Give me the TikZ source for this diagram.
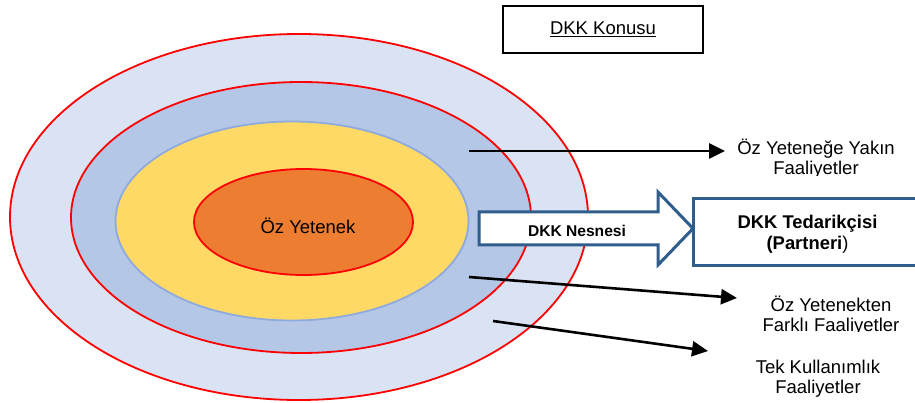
\documentclass[tikz,border=0pt]{standalone}
\usepackage{fontspec}
\setmainfont{Liberation Sans}
\usetikzlibrary{shapes.geometric,arrows.meta}
\definecolor{outerfill}{HTML}{DAE3F3}
\definecolor{midfill}{HTML}{B4C7E7}
\definecolor{yellowfill}{HTML}{FFD966}
\definecolor{orangefill}{HTML}{ED7D31}
\definecolor{yellowline}{HTML}{8FAADC}
\definecolor{navy}{HTML}{2F5D8C}
\begin{document}
\begin{tikzpicture}[x=1pt,y=-1pt,
  ring/.style={ellipse, inner sep=0pt, outer sep=0pt, line width=1.8pt},
  lbl/.style={font=\fontsize{18.5}{19.5}\selectfont, align=center, anchor=base, inner sep=0pt},
  ptr/.style={line width=2.6pt, -{Triangle[length=16pt,width=15pt]}},
  navyline/.style={draw=navy, line width=3pt, line join=miter}]
\useasboundingbox (0,0) rectangle (915,403);
% rings
\node[ring, draw=red, fill=outerfill, minimum width=578pt, minimum height=366pt] (outer) at (299,217) {};
\node[ring, draw=red, fill=midfill, minimum width=460pt, minimum height=271pt] (mid) at (301,217.5) {};
\node[ring, draw=yellowline, fill=yellowfill, minimum width=353pt, minimum height=199pt] (yel) at (292,221) {};
\node[ring, draw=red, fill=orangefill, minimum width=219pt, minimum height=106pt] (core) at (303.5,222) {};
\node[lbl] (coretext) at (308,234) {Öz Yetenek};
% title box
\node[draw=black, line width=1.8pt, minimum width=200pt, minimum height=47pt, inner sep=0pt] (titlebox) at (603,29.5) {};
\node[lbl] (title) at (603,34.5) {\underline{DKK Konusu}};
% pointer arrows
\coordinate (a1s) at (469,151); \coordinate (a1e) at (725,151);
\coordinate (a2s) at (469,277); \coordinate (a2e) at (737,298);
\coordinate (a3s) at (493,321); \coordinate (a3e) at (708,351);
\draw[ptr] (a1s) -- (a1e);
\draw[ptr] (a2s) -- (a2e);
\draw[ptr] (a3s) -- (a3e);
% block arrow
\draw[navyline, fill=white] (479,212) -- (658,212) -- (658,192) -- (693,228.5) -- (658,265) -- (658,245) -- (479,245) -- cycle;
\node[lbl, font=\fontsize{15.6}{18}\selectfont\bfseries] (objtext) at (577,236.5) {DKK Nesnesi};
% supplier box
\node[navyline, minimum width=232pt, minimum height=67pt, inner sep=0pt, fill=white] (supbox) at (809,232.5) {};
\node[lbl, font=\fontsize{18.4}{21}\selectfont\bfseries] (suptext) at (807.5,250) {DKK Tedarikçisi\\(Partneri{\mdseries)}};
% labels
\begin{scope}
\clip (700,0) rectangle (915,176);
\node[lbl] (l1) at (816,174.5) {Öz Yeteneğe Yakın\\Faaliyetler};
\end{scope}
\begin{scope}
\clip (700,270) rectangle (915,331.5);
\node[lbl] (l2) at (831,331) {Öz Yetenekten\\Farklı Faaliyetler};
\end{scope}
\node[lbl] (l3) at (818,393) {Tek Kullanımlık\\Faaliyetler};
\end{tikzpicture}
\end{document}
